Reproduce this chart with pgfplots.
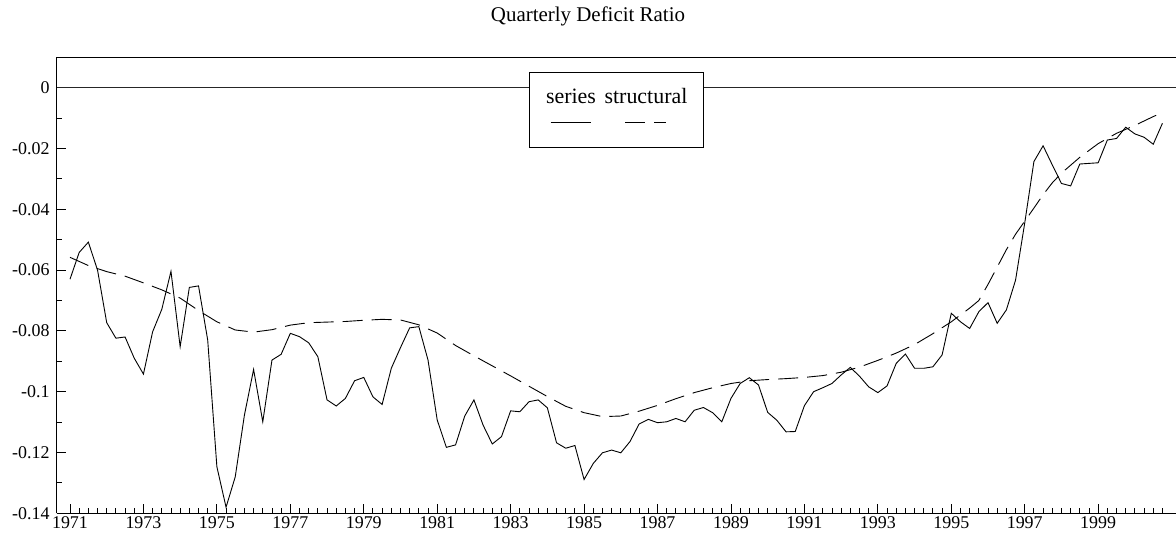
\documentclass[border=0pt]{standalone}
\usepackage{fontspec}
\setmainfont{Liberation Serif}
\usepackage{pgfplots}
\pgfplotsset{compat=1.18}
\usepackage{pgfplotstable}

\pgfplotstableread{
t v
1971.00 -0.0630
1971.25 -0.0542
1971.50 -0.0508
1971.75 -0.0600
1972.00 -0.0773
1972.25 -0.0824
1972.50 -0.0820
1972.75 -0.0890
1973.00 -0.0942
1973.25 -0.0803
1973.50 -0.0729
1973.75 -0.0604
1974.00 -0.0852
1974.25 -0.0657
1974.50 -0.0652
1974.75 -0.0830
1975.00 -0.1247
1975.25 -0.1380
1975.50 -0.1280
1975.75 -0.1077
1976.00 -0.0927
1976.25 -0.1099
1976.50 -0.0896
1976.75 -0.0877
1977.00 -0.0808
1977.25 -0.0819
1977.50 -0.0839
1977.75 -0.0885
1978.00 -0.1027
1978.25 -0.1047
1978.50 -0.1022
1978.75 -0.0964
1979.00 -0.0953
1979.25 -0.1017
1979.50 -0.1042
1979.75 -0.0923
1980.00 -0.0855
1980.25 -0.0790
1980.50 -0.0786
1980.75 -0.0896
1981.00 -0.1093
1981.25 -0.1183
1981.50 -0.1175
1981.75 -0.1080
1982.00 -0.1027
1982.25 -0.1110
1982.50 -0.1172
1982.75 -0.1148
1983.00 -0.1063
1983.25 -0.1066
1983.50 -0.1033
1983.75 -0.1027
1984.00 -0.1053
1984.25 -0.1168
1984.50 -0.1186
1984.75 -0.1177
1985.00 -0.1289
1985.25 -0.1236
1985.50 -0.1201
1985.75 -0.1192
1986.00 -0.1201
1986.25 -0.1164
1986.50 -0.1106
1986.75 -0.1091
1987.00 -0.1102
1987.25 -0.1099
1987.50 -0.1088
1987.75 -0.1099
1988.00 -0.1061
1988.25 -0.1052
1988.50 -0.1069
1988.75 -0.1099
1989.00 -0.1022
1989.25 -0.0973
1989.50 -0.0954
1989.75 -0.0978
1990.00 -0.1068
1990.25 -0.1094
1990.50 -0.1132
1990.75 -0.1131
1991.00 -0.1046
1991.25 -0.1000
1991.50 -0.0987
1991.75 -0.0973
1992.00 -0.0945
1992.25 -0.0920
1992.50 -0.0949
1992.75 -0.0984
1993.00 -0.1003
1993.25 -0.0981
1993.50 -0.0907
1993.75 -0.0876
1994.00 -0.0923
1994.25 -0.0923
1994.50 -0.0918
1994.75 -0.0879
1995.00 -0.0742
1995.25 -0.0770
1995.50 -0.0792
1995.75 -0.0737
1996.00 -0.0707
1996.25 -0.0775
1996.50 -0.0731
1996.75 -0.0633
1997.00 -0.0445
1997.25 -0.0243
1997.50 -0.0191
1997.75 -0.0254
1998.00 -0.0315
1998.25 -0.0323
1998.50 -0.0251
1998.75 -0.0249
1999.00 -0.0247
1999.25 -0.0172
1999.50 -0.0167
1999.75 -0.0130
2000.00 -0.0152
2000.25 -0.0163
2000.50 -0.0186
2000.75 -0.0117
}\seriesdata

\pgfplotstableread{
t v
1971.00 -0.0558
1971.50 -0.0585
1972.00 -0.0605
1972.50 -0.0620
1973.00 -0.0642
1973.50 -0.0665
1974.00 -0.0692
1974.50 -0.0733
1975.00 -0.0770
1975.50 -0.0797
1976.00 -0.0804
1976.50 -0.0796
1977.00 -0.0781
1977.50 -0.0773
1978.00 -0.0771
1978.50 -0.0769
1979.00 -0.0765
1979.50 -0.0762
1980.00 -0.0764
1980.50 -0.0780
1981.00 -0.0807
1981.50 -0.0848
1982.00 -0.0882
1982.50 -0.0915
1983.00 -0.0948
1983.50 -0.0982
1984.00 -0.1016
1984.50 -0.1048
1985.00 -0.1069
1985.50 -0.1082
1986.00 -0.1080
1986.50 -0.1064
1987.00 -0.1045
1987.50 -0.1023
1988.00 -0.1003
1988.50 -0.0987
1989.00 -0.0973
1989.50 -0.0964
1990.00 -0.0960
1990.50 -0.0957
1991.00 -0.0953
1991.50 -0.0947
1992.00 -0.0936
1992.50 -0.0919
1993.00 -0.0897
1993.50 -0.0873
1994.00 -0.0845
1994.50 -0.0809
1995.00 -0.0770
1995.50 -0.0725
1995.75 -0.0700
1996.00 -0.0647
1996.25 -0.0590
1996.50 -0.0533
1996.75 -0.0482
1997.00 -0.0439
1997.25 -0.0396
1997.50 -0.0352
1997.75 -0.0313
1998.00 -0.0281
1998.50 -0.0229
1999.00 -0.0184
1999.50 -0.0150
2000.00 -0.0124
2000.50 -0.0095
2000.75 -0.0082
}\structdata

\begin{document}
\begin{tikzpicture}
\begin{axis}[
  scale only axis,
  width=1119bp, height=456bp,
  xmin=1970.646, xmax=2001.12,
  ymin=-0.14, ymax=0.01,
  axis x line*=bottom, axis y line*=left,
  axis line style={line width=1bp, black},
  tick align=inside,
  xtick={1971,1973,1975,1977,1979,1981,1983,1985,1987,1989,1991,1993,1995,1997,1999},
  xticklabels={1971,1973,1975,1977,1979,1981,1983,1985,1987,1989,1991,1993,1995,1997,1999},
  minor xtick={1971.25,1971.5,...,2000.75},
  ytick={-0.14,-0.12,-0.1,-0.08,-0.06,-0.04,-0.02,0},
  yticklabels={-0.14,-0.12,-0.1,-0.08,-0.06,-0.04,-0.02,0},
  minor ytick={-0.13,-0.11,-0.09,-0.07,-0.05,-0.03,-0.01},
  major tick length=9bp, minor tick length=5bp,
  tick style={black, line width=0.9bp},
  tick label style={font=\fontsize{18}{20}\selectfont},
  yticklabel style={xshift=-4bp},
]
\draw[black!85, line width=1bp] (axis cs:1970.646,0) -- (axis cs:2001.12,0);
\addplot[black, line width=0.9bp] table[x=t,y=v] {\seriesdata};
\addplot[black, line width=0.9bp, dash pattern=on 20bp off 9bp] table[x=t,y=v] {\structdata};
\end{axis}
\draw[line width=1bp] (0,456bp) -- (1119bp,456bp);
\node[anchor=base, font=\fontsize{21}{24}\selectfont] at (531bp,492bp) {Quarterly Deficit Ratio};
\draw[line width=0.9bp, fill=white] (472bp,366bp) rectangle (646.3bp,440.6bp);
\node[anchor=base, inner sep=0pt, font=\fontsize{22}{24}\selectfont] at (514bp,410bp) {series};
\node[anchor=base, inner sep=0pt, font=\fontsize{22}{24}\selectfont] at (589bp,410bp) {structural};
\draw[line width=0.9bp] (493.7bp,391.3bp) -- (533.7bp,391.3bp);
\draw[line width=0.9bp, dash pattern=on 20bp off 9bp] (568bp,391.3bp) -- (609bp,391.3bp);
\pgfresetboundingbox
\useasboundingbox (-57bp,-29.7bp) rectangle (1119bp,513.3bp);
\end{tikzpicture}
\end{document}
